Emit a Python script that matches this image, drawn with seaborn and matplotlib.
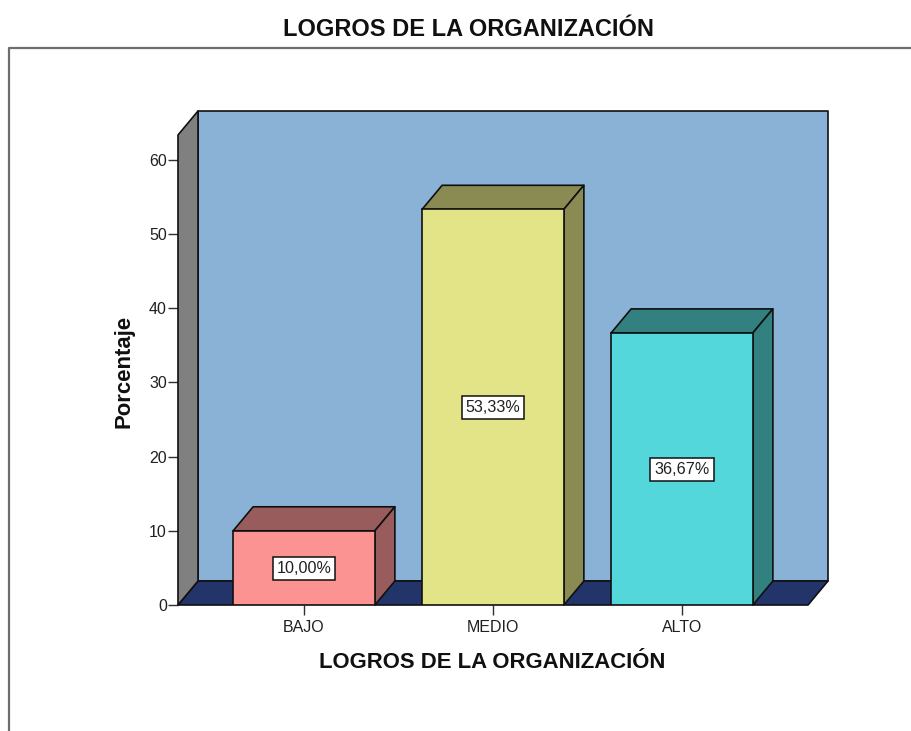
import matplotlib
matplotlib.use("Agg")
import matplotlib.pyplot as plt
import seaborn as sns
from matplotlib.lines import Line2D
from matplotlib.patches import Polygon

categories = ['BAJO', 'MEDIO', 'ALTO']
percentages = [10.00, 53.33, 36.67]
value_labels = ['10,00%', '53,33%', '36,67%']
front_colors = ['#FB9393', '#E3E488', '#53D7DB']
side_colors = ['#985C5C', '#8A8A53', '#32807F']
y_ticks = [0, 10, 20, 30, 40, 50, 60]

W, H = 912, 731
DEPTH_X = 20 / 189   # oblique depth in x units
DEPTH_Y = 24 / 7.42  # oblique depth in y units

sns.set_theme(style='white')
plt.rcParams['font.family'] = ['Liberation Sans', 'DejaVu Sans']

fig = plt.figure(figsize=(W / 100, H / 100), dpi=100)
ax = fig.add_axes([178 / W, (H - 605) / H, 630 / W, 470 / H])

sns.barplot(x=categories, y=percentages, hue=categories, palette=front_colors,
            width=0.75, saturation=1, legend=False, edgecolor='#101010',
            linewidth=1.2, zorder=5, ax=ax)

ax.set_xlim(-126 / 189, 2 + 126 / 189)
ax.set_ylim(0, 470 / 7.42)
x0, x1 = ax.get_xlim()
y0, y1 = ax.get_ylim()


def add_poly(points, color, z):
    ax.add_patch(Polygon(points, closed=True, facecolor=color, edgecolor='#101010',
                         linewidth=1.2, zorder=z, clip_on=False, joinstyle='round'))


# room: back wall, floor, left wall
add_poly([(x0 + DEPTH_X, y0 + DEPTH_Y), (x1 + DEPTH_X, y0 + DEPTH_Y),
          (x1 + DEPTH_X, y1 + DEPTH_Y), (x0 + DEPTH_X, y1 + DEPTH_Y)], '#8AB2D6', 1)
add_poly([(x0, y0), (x1, y0), (x1 + DEPTH_X, y0 + DEPTH_Y), (x0 + DEPTH_X, y0 + DEPTH_Y)], '#23346B', 2)
add_poly([(x0, y0), (x0 + DEPTH_X, y0 + DEPTH_Y), (x0 + DEPTH_X, y1 + DEPTH_Y), (x0, y1)], '#808080', 2)

# bar depth and value boxes
for bar, side, label in zip(ax.patches[:3], side_colors, value_labels):
    left, right = bar.get_x(), bar.get_x() + bar.get_width()
    top = bar.get_height()
    add_poly([(left, top), (right, top), (right + DEPTH_X, top + DEPTH_Y), (left + DEPTH_X, top + DEPTH_Y)], side, 4)
    add_poly([(right, 0), (right + DEPTH_X, DEPTH_Y), (right + DEPTH_X, top + DEPTH_Y), (right, top)], side, 4)
    ax.text((left + right) / 2, top / 2 - 0.1, label, ha='center', va='center', fontsize=11.6,
            color='#202020', zorder=7,
            bbox=dict(boxstyle='square,pad=0.25', facecolor='white', edgecolor='#101010', linewidth=1.1))

for s in ax.spines.values():
    s.set_visible(False)

ax.set_yticks(y_ticks)
ax.tick_params(axis='both', which='major', bottom=True, left=True, length=7.5, width=1,
               color='#303030', labelcolor='#202020', labelsize=11.5, pad=0.5)
ax.tick_params(axis='x', pad=3)

ax.set_xlabel('')
ax.set_ylabel('')
fig.text(492 / W, 1 - 662 / H, 'LOGROS DE LA ORGANIZACIÓN', ha='center', va='center',
         fontsize=15.9, fontweight='bold', color='#101010')
fig.text(124 / W, 1 - 371 / H, 'Porcentaje', ha='center', va='center', rotation=90,
         fontsize=15.9, fontweight='bold', color='#101010')
fig.text(469 / W, 1 - 30 / H, 'LOGROS DE LA ORGANIZACIÓN', ha='center', va='center',
         fontsize=17, fontweight='bold', color='#101010')

# outer chart frame, cut off by the screenshot
fig.add_artist(Line2D([9.5 / W, 9.5 / W, 1], [0, 1 - 47.5 / H, 1 - 47.5 / H],
                      color='#6E6E6E', linewidth=1.6))

fig.savefig('out.png', dpi=100, facecolor='white')
